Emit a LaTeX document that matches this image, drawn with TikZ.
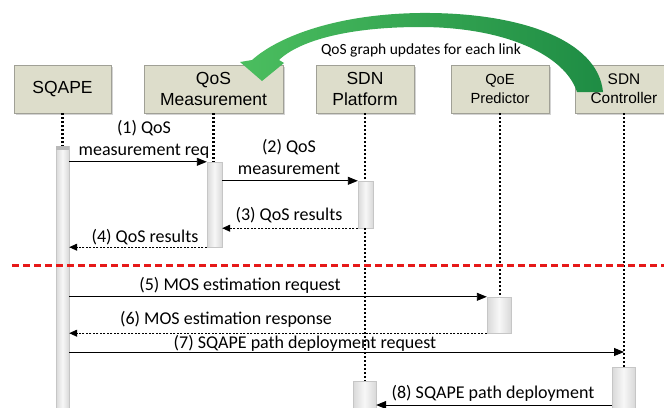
\documentclass[tikz,border=0pt]{standalone}
\usepackage{fontspec}
\setmainfont{Carlito}
\newfontfamily\boxfont{Liberation Sans}
\usetikzlibrary{arrows.meta,shadows}
\definecolor{boxfill}{RGB}{221,221,203}
\definecolor{boxline}{RGB}{160,160,150}
\definecolor{arcdark}{RGB}{30,140,68}
\definecolor{arclight}{RGB}{75,190,95}
\definecolor{sepred}{RGB}{230,25,25}
\tikzset{
  actor/.style={draw=boxline, fill=boxfill, minimum width=98pt, minimum height=48pt, align=center,
    font=\boxfont\fontsize{17.5}{21}\selectfont,
    drop shadow={opacity=0.35, shadow xshift=2pt, shadow yshift=-2pt}},
  actbar/.style={draw=gray!45, left color=gray!30, right color=gray!30, middle color=gray!6,
    minimum width=15pt, inner sep=0pt},
  life/.style={line width=2.2pt, dash pattern=on 2pt off 2pt},
  msg/.style={line width=0.9pt, -{Triangle[length=10pt,width=8pt]}},
  reply/.style={line width=0.9pt, dash pattern=on 2pt off 1.5pt, -{Triangle[length=8pt,width=7pt]}},
  lbl/.style={font=\fontsize{18}{22}\selectfont, align=center, inner sep=0pt}
}
\begin{document}
\begin{tikzpicture}[x=1pt,y=-1pt]
\useasboundingbox (0,0) rectangle (664,407);

% participants
\node[actor, minimum width=97pt] (sqape) at (62.5,89) {SQAPE};
\node[actor, minimum width=139pt] (qosm) at (213.5,89) {QoS\\Measurement};
\node[actor] (sdnp) at (365,89) {SDN\\Platform};
\node[actor, font=\boxfont\fontsize{14.7}{19}\selectfont] (qoe) at (500,89) {QoE\\Predictor};
\node[actor, font=\boxfont\fontsize{15.4}{19}\selectfont] (sdnc) at (624,89) {SDN\\Controller};

% activation bars
\node[actbar, minimum width=13pt, minimum height=262pt] (b0) at (62.5,277) {};
\fill[gray!55] (b0.north west) rectangle ([yshift=-4pt]b0.north east);
\node[actbar, minimum height=85pt] (b1) at (214.5,204.5) {};
\node[actbar, minimum height=47pt] (b2) at (365.5,204.5) {};
\node[actbar, minimum width=24pt, minimum height=36pt] (b3) at (499,315) {};
\node[actbar, minimum width=23pt, minimum height=30pt] (b4) at (364.5,396) {};
\node[actbar, minimum width=23pt, minimum height=44pt] (b5) at (623.5,389) {};

% lifelines
\draw[life] (sqape.south) -- (sqape.south |- b0.north);
\draw[life] (qosm.south) -- (qosm.south |- b1.north);
\draw[life] (sdnp.south) -- (sdnp.south |- b2.north);
\draw[life] (sdnp.south |- b2.south) -- (sdnp.south |- b4.north);
\draw[life] (qoe.south) -- (qoe.south |- b3.north);
\draw[life] (sdnc.south) -- (sdnc.south |- b5.north);

% updates arc
\shade[left color=arclight, right color=arcdark] (603,92) .. controls (598,40) and (520,12) .. (420,13)
  .. controls (340,14) and (280,35) .. (252,60) -- (240,62) -- (262,81) -- (284,63) -- (279,60)
  .. controls (300,40) and (350,27) .. (420,27) .. controls (505,27) and (565,55) .. (577,92) -- cycle;
\node (upd) at (421,50) [font=\fontsize{15.5}{18}\selectfont] {QoS graph updates for each link};

% messages
\coordinate (r7) at (0,352);
\coordinate (r8) at (0,405);
\draw[msg] (b0.east |- b1.north) -- (b1.north west);
\draw[msg] (b1.east |- b2.north) -- (b2.north west);
\draw[reply] (b2.south west) -- (b1.east |- b2.south);
\draw[reply] (b1.south west) -- (b0.east |- b1.south);
\draw[msg] (b0.east |- b3.north) -- (b3.north west);
\draw[reply] (b3.south west) -- (b0.east |- b3.south);
\draw[msg] (b0.east |- r7) -- (sdnc.south |- r7);
\draw[msg] (b5.west |- r8) -- (b4.east |- r8);

\node[lbl] (l1) at (144,139) {(1) QoS\\measurement req};
\node[lbl] (l2) at (289,157) {(2) QoS\\measurement};
\node[lbl] (l3) at (289,215) {(3) QoS results};
\node[lbl] (l4) at (145,237) {(4) QoS results};
\node[lbl] (l5) at (240,285) {(5) MOS estimation request};
\node[lbl] (l6) at (226,319) {(6) MOS estimation response};
\node[lbl] (l7) at (305,343) {(7) SQAPE path deployment request};
\node[lbl] (l8) at (493,393) {(8) SQAPE path deployment};

% phase separator
\draw[sepred, line width=3pt, dash pattern=on 7pt off 4pt] (12,265) -- (664,265);
\end{tikzpicture}
\end{document}
